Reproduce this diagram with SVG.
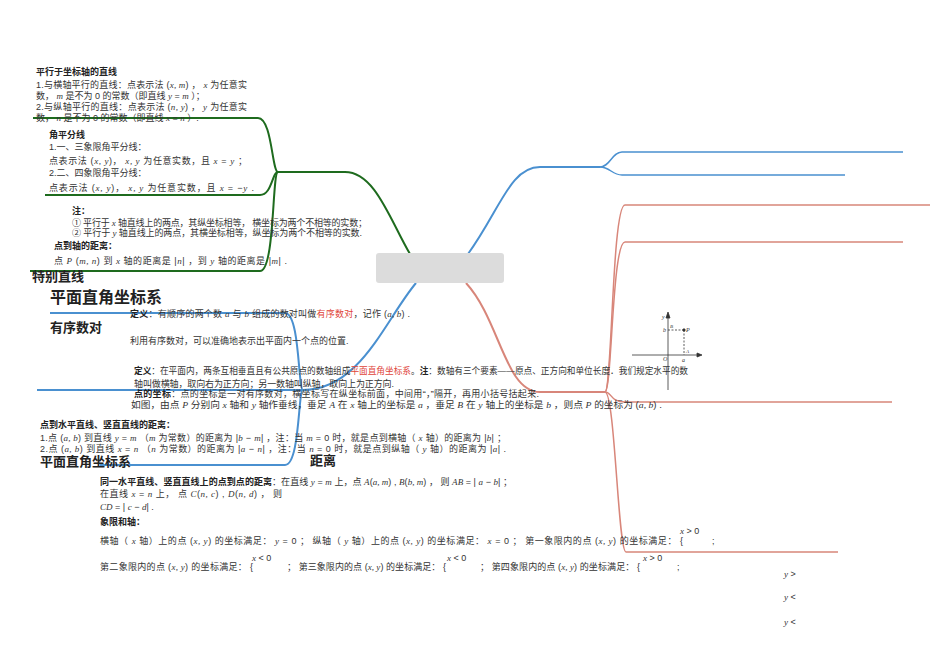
<svg xmlns="http://www.w3.org/2000/svg" width="950" height="672" viewBox="0 0 950 672">
<style>
text{font-family:"Liberation Sans","Noto Sans CJK SC",sans-serif;fill:#333;font-size:9px}
.b{font-weight:bold;fill:#222}
.h{font-weight:bold;fill:#222;font-size:13px}
.h1{font-weight:bold;fill:#222;font-size:16px}
.r{fill:#e0453a}
.i{font-family:"Liberation Serif",serif;font-style:italic}
.g{fill:none;stroke:#1e6b1e;stroke-width:2}
.bl{fill:none;stroke:#4a90d0;stroke-width:2}
.s{fill:none;stroke:#d8867a;stroke-width:2}
.t{stroke-width:1.5}
</style>
<rect width="950" height="672" fill="#fff"/>
<g id="connectors">
<path class="g" d="M410,254 C390,220 375,172 345,172 L278,172"/>
<path class="g" d="M33,118 L258,118 C272,118 272,172 278,172"/>
<path class="g" d="M45,195 L260,195 C272,195 272,172 278,172"/>
<path class="g" d="M30,271 L260,271 C275,271 272,172 278,172"/>
<path class="bl" d="M416,283 C385,320 360,390 303,390"/>
<path class="bl" d="M50,313 L285,313 C300,313 298,390 303,390"/>
<path class="bl" d="M37,390 L303,390"/>
<path class="bl" d="M100,465 L285,465 C300,465 298,390 303,390"/>
<path class="bl" d="M468,254 C500,210 510,167 540,167 L600,167"/>
<path class="bl t" d="M600,167 C610,167 612,152 622,152 L903,152"/>
<path class="bl t" d="M600,167 C610,167 612,175 622,175 L845,175"/>
<path class="s" d="M466,283 C500,320 505,392 540,392 L605,392"/>
<path class="s t" d="M605,392 C612,392 612,205 625,205 L930,205"/>
<path class="s t" d="M605,392 C612,392 612,242 625,242 L903,242"/>
<path class="s t" d="M605,392 C612,392 610,402 625,402 L892,402"/>
<path class="s t" d="M605,392 C615,392 618,552 626,552 L838,552"/>
</g>
<g id="center"><rect x="376" y="253" width="128" height="30" rx="3" fill="#dcdcdc"/></g>
<g id="special-lines">
<text class="b" x="36" y="75">平行于坐标轴的直线</text>
<text x="36" y="88" textLength="211">1.与横轴平行的直线：点表示法 (<tspan class="i">x, m</tspan>) ， <tspan class="i">x</tspan> 为任意实</text>
<text x="36" y="99">数， <tspan class="i">m</tspan> 是不为 0 的常数（即直线 <tspan class="i">y</tspan> = <tspan class="i">m</tspan> ）；</text>
<text x="36" y="110" textLength="211">2.与纵轴平行的直线：点表示法 (<tspan class="i">n, y</tspan>) ， <tspan class="i">y</tspan> 为任意实</text>
<text x="36" y="121">数， <tspan class="i">n</tspan> 是不为 0 的常数（即直线 <tspan class="i">x</tspan> = <tspan class="i">n</tspan> ）.</text>
<text class="b" x="49" y="138">角平分线</text>
<text x="49" y="150">1.一、三象限角平分线：</text>
<text x="49" y="164" textLength="198">点表示法 (<tspan class="i">x, y</tspan>)， <tspan class="i">x, y</tspan> 为任意实数，且 <tspan class="i">x</tspan> = <tspan class="i">y</tspan> ；</text>
<text x="49" y="176">2.二、四象限角平分线：</text>
<text x="49" y="191" textLength="205">点表示法 (<tspan class="i">x, y</tspan>)， <tspan class="i">x, y</tspan> 为任意实数，且 <tspan class="i">x</tspan> = −<tspan class="i">y</tspan> .</text>
<text class="b" x="72" y="214">注：</text>
<text x="72" y="226" textLength="295">① 平行于 <tspan class="i">x</tspan> 轴直线上的两点，其纵坐标相等， 横坐标为两个不相等的实数；</text>
<text x="72" y="236" textLength="290">② 平行于 <tspan class="i">y</tspan> 轴直线上的两点，其横坐标相等，纵坐标为两个不相等的实数.</text>
<text class="b" x="54" y="249">点到轴的距离：</text>
<text x="54" y="264" textLength="233">点 <tspan class="i">P</tspan> (<tspan class="i">m, n</tspan>) 到 <tspan class="i">x</tspan> 轴的距离是 |<tspan class="i">n</tspan>| ，到 <tspan class="i">y</tspan> 轴的距离是 |<tspan class="i">m</tspan>| .</text>
<text class="h" x="32" y="281">特别直线</text>
</g>
<g id="coord-system">
<text class="h1" x="50" y="303">平面直角坐标系</text>
<text x="130" y="317" textLength="280"><tspan class="b">定义</tspan>：有顺序的两个数 <tspan class="i">a</tspan> 与 <tspan class="i">b</tspan> 组成的数对叫做<tspan class="r">有序数对</tspan>，记作 (<tspan class="i">a, b</tspan>) .</text>
<text class="h" x="50" y="332">有序数对</text>
<text x="130" y="344">利用有序数对，可以准确地表示出平面内一个点的位置.</text>
<text x="134" y="374" textLength="554" lengthAdjust="spacingAndGlyphs"><tspan class="b">定义</tspan>：在平面内，两条互相垂直且有公共原点的数轴组成<tspan class="r">平面直角坐标系</tspan>。<tspan class="b">注</tspan>：数轴有三个要素——原点、正方向和单位长度．我们规定水平的数</text>
<text x="134" y="387" textLength="260">轴叫做横轴，取向右为正方向；另一数轴叫纵轴，取向上为正方向.</text>
<text x="134" y="397" textLength="405"><tspan class="b">点的坐标</tspan>：点的坐标是一对有序数对，横坐标写在纵坐标前面，中间用“，”隔开，再用小括号括起来.</text>
<text x="131" y="408" textLength="531" lengthAdjust="spacingAndGlyphs">如图，由点 <tspan class="i">P</tspan> 分别向 <tspan class="i">x</tspan> 轴和 <tspan class="i">y</tspan> 轴作垂线，垂足 <tspan class="i">A</tspan> 在 <tspan class="i">x</tspan> 轴上的坐标是 <tspan class="i">a</tspan> ，垂足 <tspan class="i">B</tspan> 在 <tspan class="i">y</tspan> 轴上的坐标是 <tspan class="i">b</tspan> ，则点 <tspan class="i">P</tspan> 的坐标为 (<tspan class="i">a, b</tspan>) .</text>
<g id="inset" stroke="#333" stroke-width="0.8" fill="none">
<line x1="632" y1="355" x2="700" y2="355"/>
<line x1="668" y1="390" x2="668" y2="314"/>
<path d="M666,318 L668,312 L670,318Z" fill="#333"/>
<path d="M697,353 L702,355 L697,357Z" fill="#333"/>
<line x1="668" y1="330" x2="684" y2="330" stroke-dasharray="2,1.5"/>
<line x1="684" y1="330" x2="684" y2="355" stroke-dasharray="2,1.5"/>
<circle cx="684" cy="330" r="1.2" fill="#333"/>
<text x="686" y="332" style="font-size:6px" class="i" stroke="none">P</text>
<text x="662" y="319" style="font-size:6px" class="i" stroke="none">y</text>
<text x="663" y="332" style="font-size:6px" class="i" stroke="none">b</text>
<text x="663" y="361" style="font-size:6px" class="i" stroke="none">O</text>
<text x="682" y="362" style="font-size:6px" class="i" stroke="none">a</text>
<text x="686" y="353" style="font-size:5px" class="i" stroke="none">A</text>
<text x="670" y="328" style="font-size:5px" class="i" stroke="none">B</text>
</g>
</g>
<g id="distance">
<text class="b" x="40" y="428">点到水平直线、竖直直线的距离：</text>
<text x="40" y="441" textLength="466">1.点 (<tspan class="i">a, b</tspan>) 到直线 <tspan class="i">y</tspan> = <tspan class="i">m</tspan> （<tspan class="i">m</tspan> 为常数）的距离为 |<tspan class="i">b</tspan> − <tspan class="i">m</tspan>| ，注：当 <tspan class="i">m</tspan> = 0 时，就是点到横轴（ <tspan class="i">x</tspan> 轴）的距离为 |<tspan class="i">b</tspan>| ；</text>
<text x="40" y="452" textLength="466">2.点 (<tspan class="i">a, b</tspan>) 到直线 <tspan class="i">x</tspan> = <tspan class="i">n</tspan> （<tspan class="i">n</tspan> 为常数）的距离为 |<tspan class="i">a</tspan> − <tspan class="i">n</tspan>| ，注：当 <tspan class="i">n</tspan> = 0 时，就是点到纵轴（ <tspan class="i">y</tspan> 轴）的距离为 |<tspan class="i">a</tspan>| .</text>
<text class="h" x="40" y="466">平面直角坐标系</text>
<text class="h" x="310" y="465">距离</text>
<text x="100" y="485" textLength="412"><tspan class="b">同一水平直线、竖直直线上的点到点的距离</tspan>：在直线 <tspan class="i">y</tspan> = <tspan class="i">m</tspan> 上，点 <tspan class="i">A</tspan>(<tspan class="i">a, m</tspan>) , <tspan class="i">B</tspan>(<tspan class="i">b, m</tspan>) ， 则 <tspan class="i">AB</tspan> = | <tspan class="i">a</tspan> − <tspan class="i">b</tspan>| ；</text>
<text x="100" y="497" textLength="182">在直线 <tspan class="i">x</tspan> = <tspan class="i">n</tspan> 上， 点 <tspan class="i">C</tspan>(<tspan class="i">n, c</tspan>) , <tspan class="i">D</tspan>(<tspan class="i">n, d</tspan>) ， 则</text>
<text x="100" y="510">   <tspan class="i">CD</tspan> = | <tspan class="i">c</tspan> − <tspan class="i">d</tspan>| .</text>
<text class="b" x="100" y="525">象限和轴：</text>
<text x="100" y="544" textLength="583">横轴（ <tspan class="i">x</tspan> 轴）上的点 (<tspan class="i">x, y</tspan>) 的坐标满足：  <tspan class="i">y</tspan> = 0 ； 纵轴（ <tspan class="i">y</tspan> 轴）上的点 (<tspan class="i">x, y</tspan>) 的坐标满足：  <tspan class="i">x</tspan> = 0 ； 第一象限内的点 (<tspan class="i">x, y</tspan>) 的坐标满足： {</text>
<text x="680" y="534"><tspan class="i">x</tspan> &gt; 0</text>
<text x="712" y="544">;</text>
<text x="100" y="570" textLength="153">第二象限内的点 (<tspan class="i">x, y</tspan>) 的坐标满足： {</text>
<text x="252" y="561"><tspan class="i">x</tspan> &lt; 0</text>
<text x="287" y="570" textLength="159">； 第三象限内的点 (<tspan class="i">x, y</tspan>) 的坐标满足： {</text>
<text x="447" y="561"><tspan class="i">x</tspan> &lt; 0</text>
<text x="480" y="570" textLength="160">； 第四象限内的点 (<tspan class="i">x, y</tspan>) 的坐标满足： {</text>
<text x="643" y="561"><tspan class="i">x</tspan> &gt; 0</text>
<text x="677" y="570">;</text>
<text x="784" y="577"><tspan class="i">y</tspan> &gt;</text>
<text x="784" y="600"><tspan class="i">y</tspan> &lt;</text>
<text x="784" y="625"><tspan class="i">y</tspan> &lt;</text>
</g>
</svg>
